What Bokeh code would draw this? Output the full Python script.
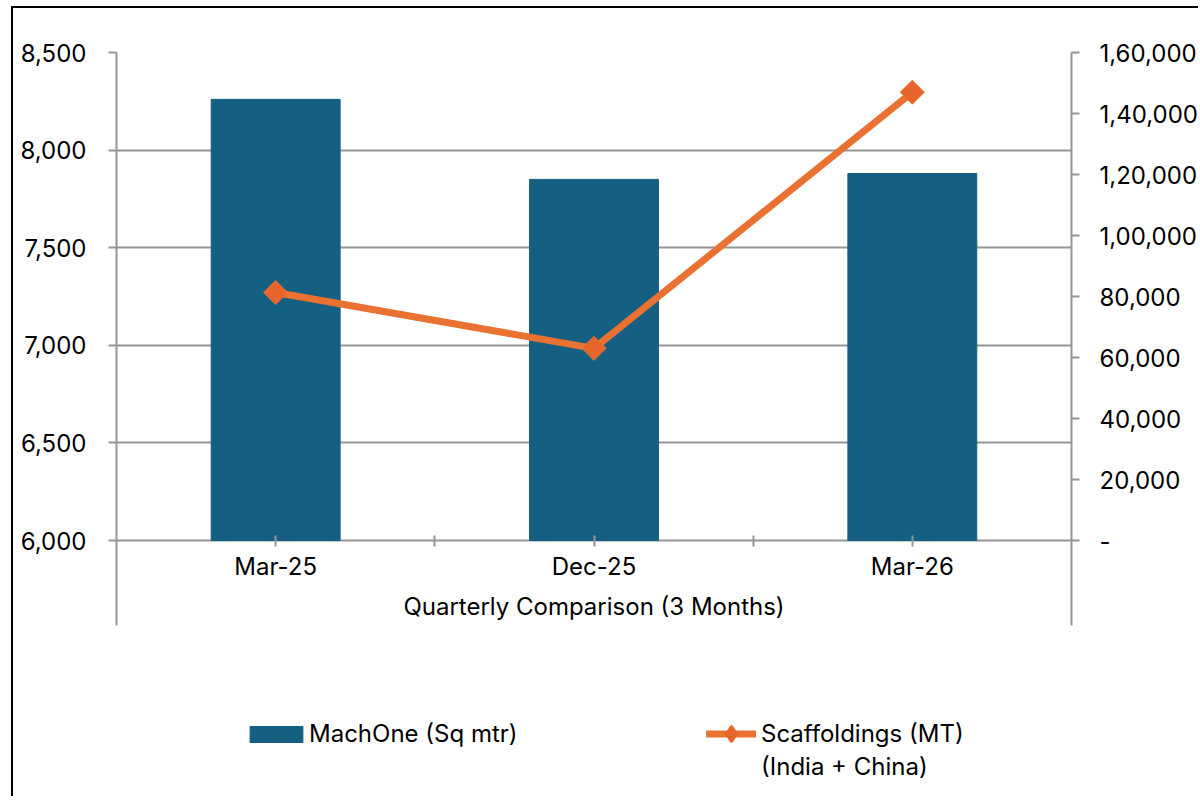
from bokeh.plotting import figure
from bokeh.models import (ColumnDataSource, FixedTicker, LinearAxis, Range1d,
                          Legend, LegendItem, FactorRange)
from bokeh.embed import file_html
from bokeh.resources import INLINE
import numpy as np

# ---- data ----
quarters = ["Mar-25", "Dec-25", "Mar-26"]
machone_sqm = [8260, 7850, 7880]
scaffold_mt = [81300, 63000, 147000]
left_ticks = [6000, 6500, 7000, 7500, 8000, 8500]
left_labels = ["6,000", "6,500", "7,000", "7,500", "8,000", "8,500"]
right_ticks = [0, 20000, 40000, 60000, 80000, 100000, 120000, 140000, 160000]
right_labels = ["-", "20,000", "40,000", "60,000", "80,000", "1,00,000",
                "1,20,000", "1,40,000", "1,60,000"]
x_title = "Quarterly Comparison (3 Months)"
bar_name = "MachOne (Sq mtr)"
line_name_1 = "Scaffoldings (MT)"
line_name_2 = "(India + China)"

FONT = "Inter"
FS = "24px"
GRID = "#959595"
BAR = "#156082"
ORANGE = "#E97132"
MARK = "#E5652A"

CANVAS_W, CANVAS_H = 1187, 790
TOP, LEFT, FRAME_W = 44, 103, 957
FRAME_H = CANVAS_H - TOP
AXIS_PX = 488          # pixels from 6000 to 8500 / from 0 to 160000
EXT_PX = 85            # axis lines continue below the category axis

src = ColumnDataSource(dict(q=quarters, m=machone_sqm, s=scaffold_mt))
# a source with no drawable point: used only for the legend swatch
nosrc = ColumnDataSource(dict(q=[quarters[0]], s=[np.nan]))

l_span = left_ticks[-1] - left_ticks[0]
r_span = right_ticks[-1] - right_ticks[0]
l_start = left_ticks[-1] - FRAME_H * l_span / AXIS_PX
r_start = right_ticks[-1] - FRAME_H * r_span / AXIS_PX

p = figure(x_range=FactorRange(*quarters),
           y_range=Range1d(l_start, left_ticks[-1]),
           width=CANVAS_W, height=CANVAS_H, output_backend="svg",
           toolbar_location=None,
           min_border_left=LEFT, min_border_right=CANVAS_W - LEFT - FRAME_W,
           min_border_top=TOP, min_border_bottom=0)
p.styles = {"border-left": "2px solid black", "border-top": "2px solid black",
            "margin-left": "11px", "margin-top": "6px"}
p.outline_line_color = None
p.background_fill_color = "white"
p.border_fill_color = "white"

p.extra_y_ranges = {"right": Range1d(r_start, right_ticks[-1])}

bars = p.vbar(x="q", top="m", bottom=left_ticks[0], width=0.405, source=src,
              fill_color=BAR, line_color=BAR)
ln = p.line(x="q", y="s", source=src, line_color=ORANGE, line_width=7,
            line_cap="round", y_range_name="right")
mk = p.scatter(x="q", y="s", source=src, marker="square", angle=np.pi / 4,
               size=17, fill_color=MARK, line_color=ORANGE,
               y_range_name="right")
# legend-only renderers (they draw nothing in the plot)
leg_mk = p.scatter(x="q", y="s", source=nosrc, marker="diamond",
                   fill_color=MARK, line_color=MARK, line_width=4,
                   line_join="round", y_range_name="right")
ghost = p.line(x="q", y="s", source=src, line_alpha=0, y_range_name="right")

# left axis
la = p.yaxis[0]
la.ticker = FixedTicker(ticks=left_ticks)
la.bounds = (left_ticks[0] - EXT_PX * l_span / AXIS_PX, left_ticks[-1])
la.major_label_overrides = {t: l for t, l in zip(left_ticks, left_labels)}
la.axis_line_color = GRID
la.axis_line_width = 2
la.major_tick_line_color = GRID
la.major_tick_line_width = 2
la.major_tick_out = 8
la.major_tick_in = 0
la.minor_tick_line_color = None
la.major_label_standoff = 22
la.major_label_text_font = FONT
la.major_label_text_font_size = FS
la.major_label_text_color = "black"

# right axis
ra = LinearAxis(y_range_name="right", ticker=FixedTicker(ticks=right_ticks))
ra.bounds = (right_ticks[0] - EXT_PX * r_span / AXIS_PX, right_ticks[-1])
ra.major_label_overrides = {t: l for t, l in zip(right_ticks, right_labels)}
ra.axis_line_color = GRID
ra.axis_line_width = 2
ra.major_tick_line_color = GRID
ra.major_tick_line_width = 2
ra.major_tick_out = 8
ra.major_tick_in = 0
ra.minor_tick_line_color = None
ra.major_label_standoff = 20
ra.major_label_text_font = FONT
ra.major_label_text_font_size = FS
ra.major_label_text_color = "black"
p.add_layout(ra, "right")

# category axis at 6000
xa = p.xaxis[0]
xa.fixed_location = left_ticks[0]
xa.axis_line_color = None
xa.major_tick_line_color = GRID
xa.major_tick_line_width = 2
xa.major_tick_in = 5
xa.major_tick_out = 6
xa.major_label_standoff = 5
xa.major_label_text_font = FONT
xa.major_label_text_font_size = FS
xa.major_label_text_color = "black"
xa.axis_label = x_title
xa.axis_label_text_font = FONT
xa.axis_label_text_font_size = FS
xa.axis_label_text_font_style = "normal"
xa.axis_label_text_color = "black"
xa.axis_label_standoff = 8

# tick marks on the category boundaries
bx = LinearAxis(ticker=FixedTicker(ticks=[1, 2]), fixed_location=left_ticks[0])
bx.axis_line_color = None
bx.major_tick_line_color = GRID
bx.major_tick_line_width = 2
bx.major_tick_in = 5
bx.major_tick_out = 6
bx.minor_tick_line_color = None
bx.major_label_text_font_size = "0px"
bx.major_label_text_alpha = 0
p.add_layout(bx, "below")

p.xgrid.grid_line_color = None
p.ygrid.ticker = FixedTicker(ticks=left_ticks)
p.ygrid.grid_line_color = GRID
p.ygrid.grid_line_width = 2

leg_a = Legend(items=[LegendItem(label=bar_name, renderers=[bars])],
               location=(127, 50), glyph_width=66, glyph_height=20,
               label_standoff=0, padding=0, margin=0,
               border_line_color=None, background_fill_alpha=0,
               label_text_font=FONT, label_text_font_size=FS,
               label_text_color="black")
leg_b = Legend(items=[LegendItem(label=line_name_1, renderers=[ln, leg_mk]),
                      LegendItem(label=line_name_2, renderers=[ghost])],
               location=(590, 15), glyph_width=50, glyph_height=33,
               label_standoff=5, spacing=0, padding=0, margin=0,
               border_line_color=None, background_fill_alpha=0,
               label_text_font=FONT, label_text_font_size=FS,
               label_text_color="black")
p.add_layout(leg_a, "center")
p.add_layout(leg_b, "center")

open("out.html", "w").write(file_html(p, INLINE))
